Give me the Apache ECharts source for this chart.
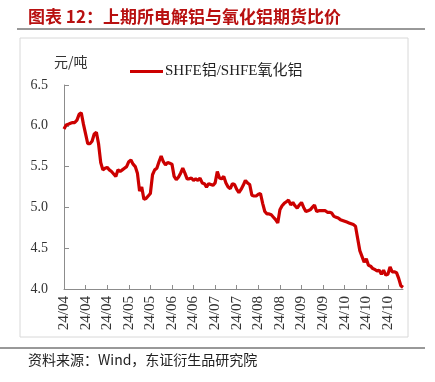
<!DOCTYPE html>
<html>
<head>
<meta charset="utf-8">
<script src="https://cdn.jsdelivr.net/npm/echarts@6/dist/echarts.min.js"></script>
<style>html,body{margin:0;padding:0;background:#fff;}#c{width:435px;height:382px;}</style>
</head>
<body>
<div id="c"></div>
<script>
// Trading dates (weekdays, 2024-04-01 .. 2024-11-08, excluding 05-01 and 09-16)
const dates = [
'2024-04-01','2024-04-02','2024-04-03','2024-04-04','2024-04-05','2024-04-08','2024-04-09','2024-04-10','2024-04-11','2024-04-12',
'2024-04-15','2024-04-16','2024-04-17','2024-04-18','2024-04-19','2024-04-22','2024-04-23','2024-04-24','2024-04-25','2024-04-26',
'2024-04-29','2024-04-30','2024-05-02','2024-05-03','2024-05-06','2024-05-07','2024-05-08','2024-05-09','2024-05-10','2024-05-13',
'2024-05-14','2024-05-15','2024-05-16','2024-05-17','2024-05-20','2024-05-21','2024-05-22','2024-05-23','2024-05-24','2024-05-27',
'2024-05-28','2024-05-29','2024-05-30','2024-05-31','2024-06-03','2024-06-04','2024-06-05','2024-06-06','2024-06-07','2024-06-10',
'2024-06-11','2024-06-12','2024-06-13','2024-06-14','2024-06-17','2024-06-18','2024-06-19','2024-06-20','2024-06-21','2024-06-24',
'2024-06-25','2024-06-26','2024-06-27','2024-06-28','2024-07-01','2024-07-02','2024-07-03','2024-07-04','2024-07-05','2024-07-08',
'2024-07-09','2024-07-10','2024-07-11','2024-07-12','2024-07-15','2024-07-16','2024-07-17','2024-07-18','2024-07-19','2024-07-22',
'2024-07-23','2024-07-24','2024-07-25','2024-07-26','2024-07-29','2024-07-30','2024-07-31','2024-08-01','2024-08-02','2024-08-05',
'2024-08-06','2024-08-07','2024-08-08','2024-08-09','2024-08-12','2024-08-13','2024-08-14','2024-08-15','2024-08-16','2024-08-19',
'2024-08-20','2024-08-21','2024-08-22','2024-08-23','2024-08-26','2024-08-27','2024-08-28','2024-08-29','2024-08-30','2024-09-02',
'2024-09-03','2024-09-04','2024-09-05','2024-09-06','2024-09-09','2024-09-10','2024-09-11','2024-09-12','2024-09-13','2024-09-17',
'2024-09-18','2024-09-19','2024-09-20','2024-09-23','2024-09-24','2024-09-25','2024-09-26','2024-09-27','2024-09-30','2024-10-01',
'2024-10-02','2024-10-03','2024-10-04','2024-10-07','2024-10-08','2024-10-09','2024-10-10','2024-10-11','2024-10-14','2024-10-15',
'2024-10-16','2024-10-17','2024-10-18','2024-10-21','2024-10-22','2024-10-23','2024-10-24','2024-10-25','2024-10-28','2024-10-29',
'2024-10-30','2024-10-31','2024-11-01','2024-11-04','2024-11-05','2024-11-06','2024-11-07','2024-11-08'
];
// SHFE aluminium / SHFE alumina price ratio
const ratio = [
5.96,6.01,6.02,6.03,6.04,6.04,6.07,6.14,6.16,6.02,
5.90,5.78,5.78,5.81,5.90,5.92,5.78,5.55,5.46,5.48,
5.49,5.46,5.44,5.41,5.38,5.46,5.44,5.46,5.48,5.50,
5.56,5.58,5.53,5.50,5.42,5.20,5.25,5.10,5.11,5.14,
5.17,5.40,5.46,5.48,5.56,5.63,5.56,5.52,5.55,5.54,
5.53,5.38,5.34,5.37,5.42,5.48,5.42,5.35,5.35,5.36,
5.33,5.35,5.33,5.36,5.30,5.29,5.25,5.29,5.28,5.27,
5.30,5.44,5.36,5.35,5.38,5.30,5.25,5.23,5.29,5.28,
5.22,5.18,5.22,5.27,5.33,5.30,5.28,5.15,5.14,5.14,
5.16,5.17,5.05,4.95,4.92,4.92,4.91,4.88,4.85,4.81,
4.97,5.02,5.05,5.07,5.09,5.03,5.06,5.02,4.99,5.03,
5.06,5.00,4.95,4.96,4.97,5.00,5.03,4.95,4.96,4.96,
4.96,4.96,4.94,4.94,4.93,4.89,4.88,4.87,4.85,4.84,
4.83,4.82,4.81,4.80,4.79,4.77,4.62,4.47,4.40,4.33,
4.37,4.29,4.28,4.25,4.24,4.22,4.23,4.18,4.23,4.17,
4.18,4.27,4.21,4.21,4.20,4.13,4.04,4.02
];
const seriesName = 'SHFE铝/SHFE氧化铝';
const yUnit = '元/吨';
const yMin = 4.0, yMax = 6.5, yStep = 0.5;
const titleText = '图表 12：上期所电解铝与氧化铝期货比价';
const sourceText = '资料来源：Wind，东证衍生品研究院';

const serif = '"Liberation Serif","Noto Sans CJK SC",serif';
const chart = echarts.init(document.getElementById('c'), null, {renderer: 'canvas'});
chart.setOption({
  animation: false,
  backgroundColor: '#fff',
  grid: {left: 64, right: 32, top: 85, bottom: 93, containLabel: false},
  legend: {
    data: [seriesName], left: 125, top: 59, itemWidth: 33, itemHeight: 3, itemGap: 4,
    icon: 'rect', padding: 5,
    textStyle: {fontFamily: serif, fontSize: 15, color: '#222', padding: [0, 0, 0, -3]}
  },
  xAxis: {
    type: 'category', data: dates, boundaryGap: false,
    axisLine: {lineStyle: {color: '#8c8c8c', width: 1}},
    axisTick: {inside: true, interval: 9, length: 4, lineStyle: {color: '#8c8c8c'}},
    axisLabel: {
      interval: 9, rotate: 90, margin: 7, fontFamily: serif, fontSize: 15, color: '#333',
      formatter: v => v.slice(2, 4) + '/' + v.slice(5, 7)
    },
    splitLine: {show: false}
  },
  yAxis: {
    type: 'value', min: yMin, max: yMax, interval: yStep,
    axisLine: {show: true, lineStyle: {color: '#8c8c8c', width: 1}},
    axisTick: {show: true, inside: true, length: 5, lineStyle: {color: '#8c8c8c'}},
    axisLabel: {fontFamily: serif, fontSize: 14, color: '#333', margin: 16, formatter: v => v.toFixed(1)},
    splitLine: {show: false}
  },
  series: [{
    name: seriesName, type: 'line', data: ratio, showSymbol: false, symbol: 'none',
    lineStyle: {color: '#cc0000', width: 3.2}, itemStyle: {color: '#cc0000'}
  }],
  graphic: [
    {type: 'text', left: 28, top: 8, style: {text: titleText, font: 'bold 17px "Noto Sans CJK SC",serif', fill: '#b81010'}},
    {type: 'line', shape: {x1: 17, y1: 29, x2: 425, y2: 29}, style: {stroke: '#333', lineWidth: 1}},
    {type: 'rect', shape: {x: 20, y: 38, width: 388, height: 299}, style: {fill: 'none', stroke: '#d8d8d8', lineWidth: 1}},
    {type: 'text', left: 54, top: 55, style: {text: yUnit, font: '14px "Noto Sans CJK SC",serif', fill: '#333'}},
    {type: 'line', shape: {x1: 0, y1: 348, x2: 425, y2: 348}, style: {stroke: '#333', lineWidth: 1}},
    {type: 'text', left: 28, top: 353, style: {text: sourceText, font: '14px "Noto Sans CJK SC",serif', fill: '#222'}}
  ]
});
</script>
</body>
</html>
